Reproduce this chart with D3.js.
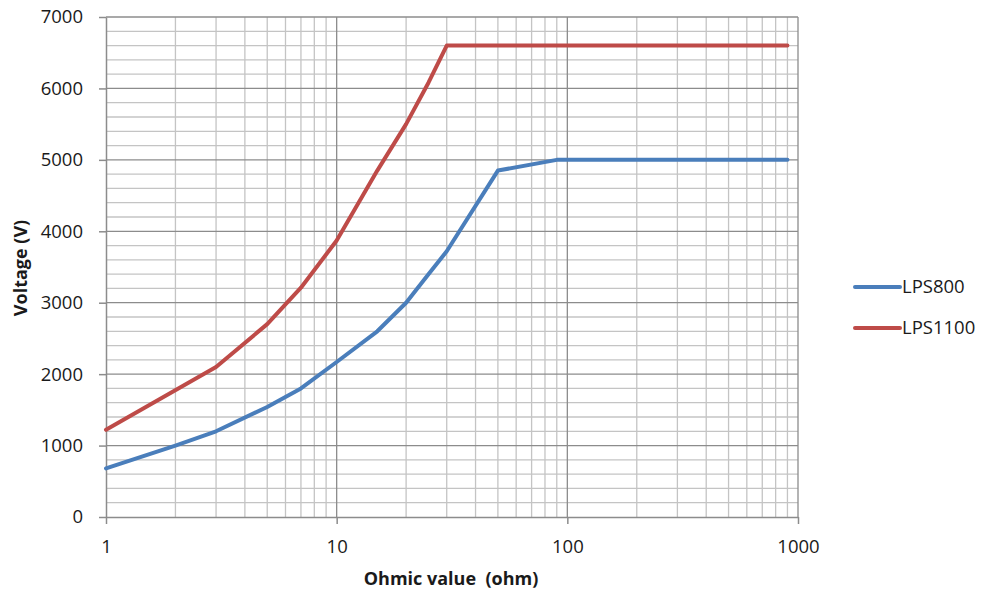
<!DOCTYPE html>
<html>
<head>
<meta charset="utf-8">
<script src="https://cdn.jsdelivr.net/npm/d3@7"></script>
<style>
  html, body { margin: 0; padding: 0; background: #fff; }
  svg { display: block; font-family: "Open Sans", sans-serif; }
</style>
</head>
<body>
<svg id="chart" width="985" height="589"></svg>
<script>
// ---- data ----
const ohms800 = [1, 2, 3, 5, 7, 10, 15, 20, 25, 30, 50, 90, 900];
const lps800  = [680, 1000, 1200, 1540, 1800, 2170, 2600, 3000, 3400, 3720, 4850, 5000, 5000];
const ohms1100 = [1, 3, 5, 7, 10, 15, 20, 25, 30, 900];
const lps1100  = [1220, 2100, 2700, 3210, 3870, 4850, 5500, 6080, 6600, 6600];
const seriesNames = ["LPS800", "LPS1100"];
const seriesColors = ["#4a7ebb", "#be4b48"];
const xTickValues = [1, 10, 100, 1000];
const yTickValues = [0, 1000, 2000, 3000, 4000, 5000, 6000, 7000];
const xTitle = "Ohmic value  (ohm)";
const yTitle = "Voltage (V)";

(function () {
// ---- layout ----
const svg = d3.select("#chart");
const pL = 106, pR = 798, pT = 17, pB = 517;

const x = d3.scaleLog().domain([1, 1000]).range([pL, pR]);
const y = d3.scaleLinear().domain([0, 7000]).range([pB, pT]);

// minor grid
const g = svg.append("g");
const minorX = [];
for (let d = 1; d < 1000; d *= 10) for (let k = 2; k <= 9; k++) minorX.push(d * k);
g.selectAll("line.mx").data(minorX).join("line")
  .attr("x1", d => x(d)).attr("x2", d => x(d))
  .attr("y1", pT).attr("y2", pB)
  .attr("stroke", "#c4c4c4").attr("stroke-width", 1.3);
const minorY = d3.range(200, 7000, 200).filter(v => v % 1000 !== 0);
g.selectAll("line.my").data(minorY).join("line")
  .attr("x1", pL).attr("x2", pR)
  .attr("y1", d => y(d)).attr("y2", d => y(d))
  .attr("stroke", "#c4c4c4").attr("stroke-width", 1.3);
// major grid
g.selectAll("line.Mx").data([10, 100, 1000]).join("line")
  .attr("x1", d => x(d)).attr("x2", d => x(d))
  .attr("y1", pT).attr("y2", pB)
  .attr("stroke", "#8c8c8c").attr("stroke-width", 1.3);
g.selectAll("line.My").data(yTickValues.slice(1)).join("line")
  .attr("x1", pL).attr("x2", pR)
  .attr("y1", d => y(d)).attr("y2", d => y(d))
  .attr("stroke", "#8c8c8c").attr("stroke-width", 1.3);

// axes
const xAxis = d3.axisBottom(x).tickValues(xTickValues).tickFormat(d3.format("d"))
  .tickSizeInner(7).tickSizeOuter(0).tickPadding(16);
const xg = svg.append("g").attr("transform", `translate(0,${pB})`).call(xAxis);
const yAxis = d3.axisLeft(y).tickValues(yTickValues).tickFormat(d3.format("d"))
  .tickSizeInner(7).tickSizeOuter(0).tickPadding(16);
const yg = svg.append("g").attr("transform", `translate(${pL},0)`).call(yAxis);
[xg, yg].forEach(a => {
  a.select(".domain").attr("stroke", "#8c8c8c").attr("stroke-width", 1.5);
  a.selectAll(".tick line").attr("stroke", "#8c8c8c").attr("stroke-width", 1.5);
  a.selectAll("text").attr("fill", "#1a1a1a").attr("font-size", 18.5)
    .attr("font-family", "'Open Sans', sans-serif");
});

// lines
const line = d3.line().x(d => x(d[0])).y(d => y(d[1]));
const series = [
  d3.zip(ohms800, lps800),
  d3.zip(ohms1100, lps1100)
];
svg.append("g").selectAll("path").data(series).join("path")
  .attr("d", line)
  .attr("fill", "none")
  .attr("stroke", (d, i) => seriesColors[i])
  .attr("stroke-width", 4)
  .attr("stroke-linejoin", "round")
  .attr("stroke-linecap", "round");

// axis titles
svg.append("text").attr("x", 451).attr("y", 585)
  .attr("text-anchor", "middle").attr("font-weight", "bold")
  .attr("font-size", 18).attr("fill", "#1a1a1a").attr("xml:space", "preserve")
  .text(xTitle);
svg.append("text")
  .attr("transform", "translate(27,268) rotate(-90)")
  .attr("text-anchor", "middle").attr("font-weight", "bold")
  .attr("font-size", 18).attr("fill", "#1a1a1a")
  .text(yTitle);

// legend
const leg = svg.append("g");
const legY = [287, 328];
seriesNames.forEach((name, i) => {
  leg.append("line").attr("x1", 855).attr("x2", 900)
    .attr("y1", legY[i]).attr("y2", legY[i])
    .attr("stroke", seriesColors[i]).attr("stroke-width", 4)
    .attr("stroke-linecap", "round");
  leg.append("text").attr("x", 902).attr("y", legY[i]).attr("dy", "0.35em")
    .attr("font-size", 18.5).attr("fill", "#1a1a1a").text(name);
});
})();
</script>
</body>
</html>
